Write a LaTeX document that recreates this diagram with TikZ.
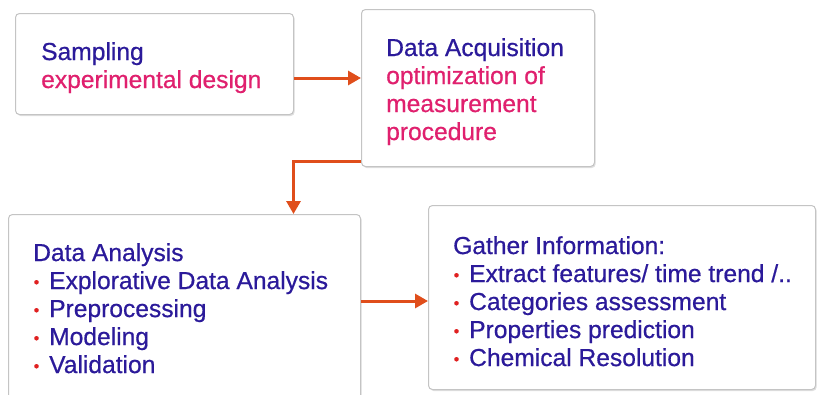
\documentclass[tikz,border=0pt]{standalone}
\usepackage{fontspec}
\setmainfont{Liberation Sans}
\newfontface\heavyface[FakeBold=0.6]{Liberation Sans}
\usetikzlibrary{shadows,arrows.meta}
\definecolor{tblue}{HTML}{2B1A9A}
\definecolor{tpink}{HTML}{E0206E}
\definecolor{bul}{HTML}{E02020}
\definecolor{arr}{HTML}{E04E1B}
\definecolor{bord}{HTML}{C4C4C4}
\newcommand{\itm}[1]{\makebox[16pt][l]{\hspace{0.5pt}\raisebox{1.5pt}{\fontsize{16}{16}\selectfont\color{bul}•}}#1}
\tikzset{
  box/.style={draw=bord, line width=1pt, fill=white, rounded corners=4pt, inner sep=0pt,
    drop shadow={shadow xshift=1.2pt, shadow yshift=-1.5pt, opacity=0.25}},
  txt/.style={anchor=north west, inner sep=0pt, align=left, text=tblue,
    font=\heavyface\fontsize{24.6}{28}\selectfont},
  conn/.style={draw=arr, line width=3pt, -{Triangle[length=13pt,width=14pt]}},
}
\begin{document}
\begin{tikzpicture}[x=1pt,y=-1pt]
\clip (0,0) rectangle (817,394);
\fill[white] (0,0) rectangle (817,394);
% boxes
\node[box, anchor=north west, minimum width=278pt, minimum height=101pt] (b1) at (15,13) {};
\node[box, anchor=north west, minimum width=233pt, minimum height=157pt] (b2) at (361,9) {};
\node[box, anchor=north west, minimum width=352pt, minimum height=200pt] (b3) at (8,214) {};
\node[box, anchor=north west, minimum width=387pt, minimum height=184pt] (b4) at (428,205) {};
% texts
\node[txt] (t1) at (41,42) {Sampling\\\textcolor{tpink}{experimental design}};
\node[txt] (t2) at (386,38) {Data Acquisition\\\textcolor{tpink}{optimization of}\\\textcolor{tpink}{measurement}\\\textcolor{tpink}{procedure}};
\node[txt] (t3) at (33,243) {Data Analysis\\\itm{Explorative Data Analysis}\\\itm{Preprocessing}\\\itm{Modeling}\\\itm{Validation}};
\node[txt] (t4) at (453,236) {Gather Information:\\\itm{Extract features/ time trend /..}\\\itm{Categories assessment}\\\itm{Properties prediction}\\\itm{Chemical Resolution}};
% connectors
\coordinate (a1) at (0,78);
\coordinate (a3) at (0,301);
\draw[conn] (b1.east |- a1) -- (b2.west |- a1);
\draw[conn] ([yshift=6pt]b2.south west) -| ([xshift=109pt]b3.north);
\draw[conn] (b3.east |- a3) -- (b4.west |- a3);
\end{tikzpicture}
\end{document}
